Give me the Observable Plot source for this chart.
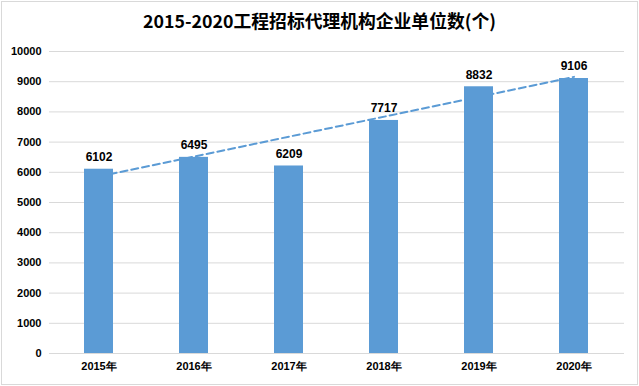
<!DOCTYPE html>
<html><head><meta charset="utf-8">
<script src="https://cdn.jsdelivr.net/npm/d3@7"></script>
<script src="https://cdn.jsdelivr.net/npm/@observablehq/plot@0.6"></script>
<style>
body{margin:0;background:#fff;}
#wrap{position:relative;width:639px;height:386px;overflow:hidden;background:#fff;}
#title{position:absolute;left:0;top:0;width:639px;height:36px;text-align:center;font-family:"Noto Sans CJK SC",sans-serif;font-weight:bold;font-size:17.8px;line-height:41px;color:#000;}
#chart{position:absolute;left:0;top:36px;}
#border{position:absolute;left:1px;top:1px;width:635px;height:382px;border:1px solid #d9d9d9;pointer-events:none;}
</style></head>
<body>
<div id="wrap">
  <div id="title">2015-2020工程招标代理机构企业单位数(个)</div>
  <div id="chart"></div>
  <div id="border"></div>
</div>
<script>
const years = ["2015年","2016年","2017年","2018年","2019年","2020年"];
const values = [6102, 6495, 6209, 7717, 8832, 9106];
const yTicks = [0,1000,2000,3000,4000,5000,6000,7000,8000,9000,10000];
// dashed linear trendline endpoints
const trendYears = ["2015年","2020年"];
const trendValues = [5860, 9160];

const data = years.map((y,i)=>({year:y, value:values[i]}));
const trend = trendYears.map((y,i)=>({year:y, value:trendValues[i]}));
const blue = "#5B9BD5";

const chart = Plot.plot({
  width: 639,
  height: 350,
  marginTop: 15,
  marginBottom: 33,
  marginLeft: 49,
  marginRight: 15,
  style: {fontFamily: "'Liberation Sans', Arial, sans-serif", background: "#fff"},
  x: {domain: years, type: "band", paddingInner: 0.69, paddingOuter: 0.345, label: null},
  y: {domain: [0, 10000], label: null},
  marks: [
    Plot.ruleY(yTicks, {stroke: "#d9d9d9", strokeWidth: 1}),
    Plot.axisY({ticks: yTicks, tickSize: 0, tickPadding: 8, tickFormat: d => String(d), fontSize: 11, fontWeight: "bold", fill: "#000", label: null}),
    Plot.axisX({tickSize: 0, tickPadding: 9, fontSize: 11, fontWeight: "bold", fill: "#000", label: null}),
    Plot.line(trend, {x: "year", y: "value", stroke: blue, strokeWidth: 2, strokeDasharray: "7,4"}),
    Plot.barY(data, {x: "year", y: "value", fill: blue}),
    Plot.text(data, {x: "year", y: "value", text: d => String(d.value), dy: -12, fontSize: 12, fontWeight: "bold", fill: "#000"})
  ]
});
document.getElementById("chart").appendChild(chart);
</script>
</body></html>
